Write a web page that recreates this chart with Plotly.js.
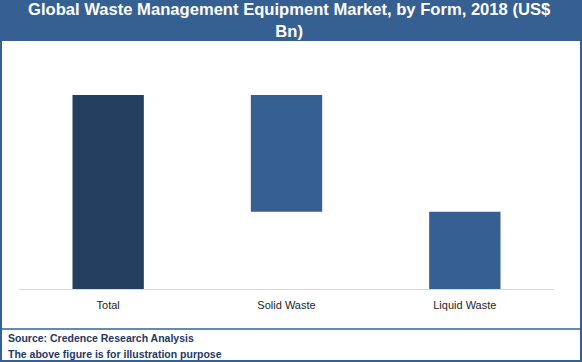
<!DOCTYPE html>
<html>
<head>
<meta charset="utf-8">
<script src="https://cdn.plot.ly/plotly-3.0.1.min.js"></script>
<style>html,body{margin:0;padding:0;background:#fff;}#chart{width:582px;height:362px;}</style>
</head>
<body>
<div id="chart"></div>
<script>
// Data (US$ Bn)
const categories = ["Total", "Solid Waste", "Liquid Waste"];
const totalValue = 11.3;
const segmentValues = [6.8, 4.5]; // Solid Waste, Liquid Waste

const titleText = "Global Waste Management Equipment Market, by Form, 2018 (US$<br>Bn)";
const sourceLines = ["Source: Credence Research Analysis", "The above figure is for illustration purpose"];

const W = 582, H = 362;
const L = 19, R = 28, T = 50, B = 73;
const pw = W - L - R, ph = H - T - B;
const px = x => (x - L) / pw;
const py = y => (H - B - y) / ph;

const trace = {
  type: "waterfall",
  x: categories,
  y: [totalValue].concat(segmentValues.map(v => -v)),
  measure: ["absolute"].concat(segmentValues.map(() => "relative")),
  totals: {marker: {color: "#243F60", line: {width: 0}}},
  decreasing: {marker: {color: "#366092", line: {width: 0}}},
  increasing: {marker: {color: "#366092", line: {width: 0}}},
  connector: {visible: false},
  textinfo: "none",
  hoverinfo: "skip"
};

const layout = {
  width: W, height: H,
  margin: {l: L, r: R, t: T, b: B, pad: 0},
  paper_bgcolor: "#ffffff",
  plot_bgcolor: "rgba(0,0,0,0)",
  showlegend: false,
  waterfallgap: 0.6,
  xaxis: {
    type: "category",
    showline: true, linecolor: "#d9d9d9", linewidth: 1,
    showgrid: false, zeroline: false, ticks: "",
    ticklabelstandoff: 6,
    tickfont: {family: "Liberation Sans, Arial, sans-serif", size: 11, color: "#262626"},
    fixedrange: true
  },
  yaxis: {
    range: [0, totalValue * ph / 194],
    visible: false, showgrid: false, zeroline: false, fixedrange: true
  },
  shapes: [
    {type: "rect", xref: "paper", yref: "paper", layer: "below",
     x0: px(0), x1: px(W), y0: py(41), y1: py(0),
     fillcolor: "#366092", line: {width: 0}},
    {type: "rect", xref: "paper", yref: "paper", layer: "above",
     x0: px(1), x1: px(W - 1), y0: py(H - 1), y1: py(1),
     fillcolor: "rgba(0,0,0,0)", line: {color: "#366092", width: 2}},
    {type: "line", xref: "paper", yref: "paper", layer: "above",
     x0: px(0), x1: px(W), y0: py(329), y1: py(329),
     line: {color: "#366092", width: 1.5}}
  ],
  annotations: [{
    text: "<b>" + titleText + "</b>",
    xref: "paper", yref: "paper", x: px(289), y: py(21),
    xanchor: "center", yanchor: "middle", align: "center", showarrow: false,
    font: {family: "Liberation Sans, Arial, sans-serif", size: 16.6, color: "#ffffff"}
  }].concat(sourceLines.map((s, i) => ({
    text: "<b>" + s + "</b>",
    xref: "paper", yref: "paper", x: px(6), y: py(338 + i * 16),
    xanchor: "left", yanchor: "middle", showarrow: false,
    font: {family: "Liberation Sans, Arial, sans-serif", size: 10.5, color: "#1F3864"}
  })))
};

Plotly.newPlot("chart", [trace], layout, {displayModeBar: false, staticPlot: true});
</script>
</body>
</html>
